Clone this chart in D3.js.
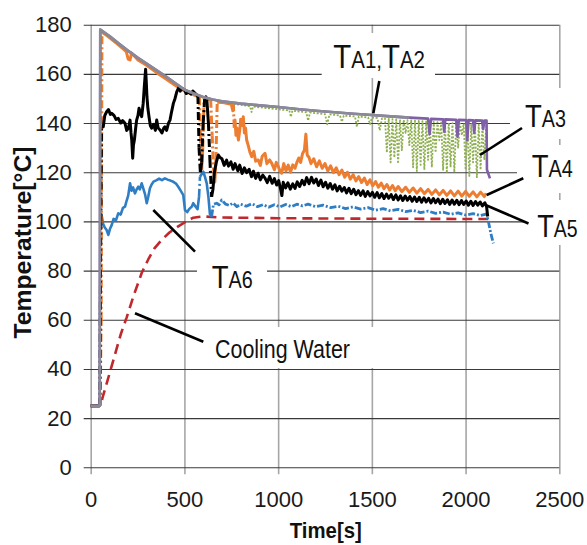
<!DOCTYPE html>
<html><head><meta charset="utf-8">
<script src="https://cdn.jsdelivr.net/npm/d3@7"></script>
<style>body{margin:0;background:#fff}svg{display:block}</style>
</head><body><svg id="c" width="587" height="545"></svg>
<script>
// ---------- data ----------
const xTicks = [0, 500, 1000, 1500, 2000, 2500];
const yTicks = [0, 20, 40, 60, 80, 100, 120, 140, 160, 180];

// TA1 (grey) – top envelope
const ta1 = [[0,25],[48,25],[51,178],[100,175.4],[150,172.3],[200,169.4],[250,166.6],[300,164.1],[350,161.5],[400,159],[450,156.3],[500,153.6],[550,152],[600,150.6],[650,149.6],[700,148.9],[800,147.9],[900,147.2],[1000,146.5],[1100,145.7],[1200,145],[1300,144.4],[1400,143.8],[1500,143.3],[1600,142.7],[1700,142.2]];

// TA2 (purple)
const ta2 = [[0,25],[48,25],[51,178],[100,175.4],[150,172.3],[200,169.4],[250,166.6],[300,164.1],[350,161.5],[400,159],[450,156.3],[500,153.6],[550,152],[600,150.6],[650,149.6],[700,148.9],[800,147.9],[900,147.2],[1000,146.5],[1100,145.7],[1200,145],[1300,144.4],[1400,143.8],[1500,143.3],[1600,142.7],[1700,142.2],[1750,142],[1800,141.8],[1808,135.5],[1816,141.7],[1880,141.5],[1886,136.5],[1892,141.5],[1950,141.3],[1957,134.5],[1964,141.3],[2003,141.2],[2009,133],[2016,141.2],[2040,141.1],[2046,136],[2052,141.1],[2088,141],[2094,137.5],[2100,141],[2112,141],[2114,121],[2130,117.5]];

// TA3 (green, dotted)
const ta3 = [[0,25],[49,25],[52,177],[100,175],[200,169.1],[300,163.8],[400,158.6],[500,153.3],[600,150.3],[700,148.5],[800,147.4],[850,146.8],[858,144.5],[866,146.7],[950,146],[1000,145.6],[1060,145.1],[1068,142.5],[1076,145],[1150,144.4],[1160,141],[1170,144.3],[1250,143.6],[1262,139.5],[1274,143.5],[1330,143.1],[1340,140.5],[1350,143],[1410,142.7],[1420,138.5],[1430,142.6],[1480,142.3],[1490,139.5],[1500,142.2],[1530,142],[1542,137],[1554,141.9],
[1570,141.8],[1580,128],[1590,141.7],[1600,124],[1610,141.6],[1620,126],[1630,141.5],[1640,123.5],[1650,141.4],[1660,129],[1670,141.3],[1680,136],[1690,141.2],[1700,131],[1710,141.1],[1720,122],[1730,141],[1740,120.5],[1750,140.9],[1760,123],[1770,140.8],[1780,121],[1790,140.7],[1800,125],[1810,140.6],[1820,122],[1830,140.5],[1840,128],[1850,140.4],[1860,133],[1870,140.3],[1880,121],[1890,140.2],[1900,119.7],[1910,140.1],[1920,122],[1930,140],[1940,120],[1950,140],[1960,130],[1970,139.9],[1980,135],[1990,139.8],[2000,121],[2010,139.7],[2020,118.5],[2030,139.6],[2040,124],[2050,139.5],[2060,118],[2070,139.4],[2080,121],[2090,139.3],[2100,125],[2110,139]];

// TA4 (orange)
const ta4 = [[0,25],[50,25],[56,60],[58,120],[60,177],[70,176.5],[100,174.8],[150,171.7],[190,169],[200,166],[210,165.7],[218,168.5],[250,165.8],[300,163.4],[350,160.6],[400,158],[450,155.4],[500,153],[550,151.5],[580,150.5],[585,135],[592,121],[598,130],[605,150],[640,149.5],[648,135],[655,122],[662,116],[668,125],[675,148.5],[700,148.4],[750,147.6],[758,145],[761,148],[766,138],[770,141.2],[775,135],[780,138],[788,133.1],[795,137],[800,141.5],[806,141.2],[810,139],[814,142.6],[820,136],[826,138],[832,133.1],[840,131],[850,128],[859,126.3],[870,128.5],[880,124.5],[894,125],[905,122.8],[915,126.5],[930,127.7],[940,123.5],[955,125],[966,123.6],[980,121],[990,124],[1001,122.3],[1010,120.5],[1019,119.6],[1030,123.5],[1042,120.5],[1054,122.9],[1066,120],[1078,123],[1090,121.6],[1100,124],[1110,125.8],[1120,124],[1130,127.5],[1140,129],[1148,135.5],[1155,127],[1165,126],[1175,123.5],[1190,125.5],[1205,122.2],[1220,124.6],[1235,121.6],[1250,123.5],[1265,120.5],[1280,122.6],[1295,119.8],[1310,121.8],[1325,119],[1340,120.9],[1355,118],[1370,120],[1385,117.2],[1400,119],[1415,116.5],[1430,118.2],[1445,115.8],[1460,117.6],[1475,115],[1490,116.9],[1505,114.5],[1520,116.2],[1535,113.9],[1550,115.6],[1565,113.3],[1580,115],[1595,112.8],[1610,114.6],[1625,112.5],[1640,114.2],[1660,112.1],[1680,113.9],[1700,111.8],[1720,113.6],[1740,111.5],[1760,113.3],[1780,111.3],[1800,113],[1820,111],[1840,112.8],[1860,110.8],[1880,112.6],[1900,110.6],[1920,112.4],[1940,110.4],[1960,112.3],[1980,110.3],[2000,112.2],[2020,110.2],[2040,112],[2060,110],[2080,111.9],[2100,110.1],[2110,111.4]];

// TA5 (black)
const ta5 = [[0,25],[48,25],[54,100],[58,138.5],[67,138.5],[75,143],[85,144.6],[95,145.5],[105,143.5],[112,144],[125,143],[135,141.5],[147,141.9],[160,140],[170,141],[183,139.9],[192,137],[201,137.9],[210,141.2],[215,136],[219,133.1],[224,125.7],[228,131],[233,133.1],[240,138],[245,141.2],[252,143],[258,146],[265,144],[272,142.6],[280,148],[286,154.8],[293,161.9],[297,156],[300,150.7],[305,146],[311,142.6],[318,139],[325,137.9],[335,139.5],[345,137],[352,141.2],[360,138],[370,137.2],[380,136],[390,138],[396,138.5],[405,137],[415,140],[423,141.2],[430,144],[441,148],[450,150],[459,152.7],[470,154.5],[478,153],[486,154.1],[500,153.5],[510,152],[521,152.7],[535,151.8],[545,153],[557,152.1],[566,151.4],[572,151],[578,130],[585,120],[592,124],[600,140],[608,150],[614,150.7],[620,149],[628,140],[636,125],[645,110],[652,113],[660,120],[670,124],[681,127],[690,126],
[700,125.5],[712,122.8],[725,124.9],[735,122.5],[748,124.2],[760,121.2],[770,123.5],[785,120.6],[795,122.9],[808,119.5],[820,121.8],[832,119.8],[845,121.2],[858,118.2],[868,120.4],[880,117.5],[893,119.6],[905,116.9],[918,118.8],[930,117.6],[942,115.8],[955,118.3],[968,115.5],[980,117.4],[992,114.8],[1003,116.6],[1012,113.5],[1020,110.5],[1027,115.9],[1040,113.6],[1052,115.7],[1065,113.1],[1078,115.3],[1090,113.4],[1102,116.1],[1115,114.2],[1128,116.7],[1140,114.9],[1152,117.8],[1165,115.3],[1178,117.9],[1190,115.6],[1203,117.2],[1215,114.6],[1228,116.8],[1240,114.1],[1253,115.9],[1265,113.5],[1278,115.4],[1290,113.1],[1303,114.9],[1315,112.4],[1328,114.3],[1340,112.3],[1353,113.8],[1365,111.6],[1378,113.5],[1390,111.3],[1403,113.1],[1415,110.9],[1428,112.5],[1440,110.6],[1453,112.4],[1465,110.2],[1478,112.1],[1490,110.4],[1503,111.8],[1515,109.8],[1528,111.7],[1540,109.6],[1553,111.3],[1565,109.3],[1578,111.1],[1590,109.4],[1603,110.9],[1615,108.9],[1628,110.8],[1640,108.7],[1653,110.4],[1665,108.5],[1678,110.3],[1690,108.6],[1703,110.1],[1715,108.2],[1728,109.9],[1740,108.1],[1753,109.8],[1765,107.8],[1778,109.6],[1790,107.9],[1803,109.4],[1815,107.5],[1828,109.3],[1840,107.6],[1853,109.1],[1865,107.2],[1878,109],[1890,107.3],[1903,108.8],[1915,106.9],[1928,108.7],[1940,107],[1953,108.6],[1965,106.8],[1978,108.5],[1990,106.9],[2003,108.3],[2015,106.6],[2028,108.2],[2040,106.5],[2053,108.1],[2065,106.6],[2078,107.9],[2090,106.3],[2103,107.6],[2112,106],[2118,102]];

// TA6 (blue)
const ta6 = [[0,25],[50,25],[52,103.3],[58,102.6],[66,99],[75,97.5],[85,96.5],[94,94.5],[103,97],[112,98.5],[122,101],[135,100.5],[147,103.3],[160,102.8],[172,105.5],[183,106],[192,108.5],[200,110.5],[210,115.5],[218,112.5],[226,113.8],[236,111.4],[245,113],[254,114.1],[262,113],[272,115.5],[280,113.5],[290,111],[299,107.4],[307,110],[316,113.5],[325,115],[335,116.2],[352,116.8],[365,117.4],[380,116.8],[396,117.5],[410,117],[425,116.6],[441,116.1],[455,115.4],[467,114.1],[480,112.5],[494,110.7],[503,104.6],[515,103.8],[525,105],[539,106],[547,107.4],[560,106],[570,105],[578,110],[583,118.2],[590,119],[601,120.2],[610,118],[619,115.5],[628,110],[636,103],[645,102],[655,107],[672,107.4],[685,106.8],[699,108.7],[720,107],[740,106.5],[760,107.5],[780,106],[800,107],[830,106.2],[860,107.2],[890,106],[920,106.8],[950,105.8],[980,106.8],[1010,105.9],[1040,106.9],[1070,106],[1100,107],[1130,106.3],[1160,107],[1200,106],[1240,106.6],[1280,105.6],[1320,106.2],[1360,105.2],[1400,105.9],[1440,105],[1480,105.6],[1520,104.6],[1560,105.2],[1600,104.3],[1640,104.9],[1680,104],[1720,104.5],[1760,103.6],[1800,104.2],[1840,103.3],[1880,103.8],[1920,102.9],[1960,103.5],[2000,102.6],[2040,103.2],[2080,102.4],[2110,103],[2122,99.9],[2135,95],[2148,91.1]];

// Cooling water (red dashed)
const coolingWater = [[0,25],[58,25.3],[62,28],[100,38],[130,46],[160,54],[192,61],[230,70],[272,79],[310,85],[340,89],[379,92.5],[420,95.5],[467,98],[510,100],[547,101.5],[600,102],[700,101.6],[1000,101.3],[1500,101.1],[2000,101],[2140,101]];

// ---------- drawing ----------
const svg = d3.select('#c');
const FONT = '"Liberation Sans", Arial, sans-serif';
const L = 90.7, R = 559.3, T = 24.7, B = 467.3;
const x = d3.scaleLinear().domain([0, 2500]).range([L, R]);
const y = d3.scaleLinear().domain([0, 180]).range([B, T]);

// vertical grid + x axis
const gx = svg.append('g').attr('transform', `translate(0,${B})`)
  .call(d3.axisBottom(x).tickValues(xTicks).tickSizeInner(7).tickSizeOuter(0).tickPadding(17.4).tickFormat(d3.format('d')));
gx.select('.domain').remove();
gx.selectAll('.tick line').attr('y1', -(B - T)).attr('stroke', '#a6a6a6').attr('stroke-width', 1.6);
gx.selectAll('.tick text').attr('font-family', FONT).attr('font-size', 22).attr('fill', '#1a1a1a');

// horizontal grid + y axis
const gy = svg.append('g').attr('transform', `translate(${L},0)`)
  .call(d3.axisLeft(y).tickValues(yTicks).tickSizeInner(7).tickSizeOuter(0).tickPadding(12).tickFormat(d3.format('d')));
gy.select('.domain').remove();
gy.selectAll('.tick line').attr('x1', R - L).attr('stroke', '#3a3a3a').attr('stroke-width', 1.1);
gy.selectAll('.tick text').attr('font-family', FONT).attr('font-size', 22).attr('fill', '#1a1a1a');

// series
const line = d3.line().x(d => x(d[0])).y(d => y(d[1]));
function drawSeries(data, color, width, dash, jumpDash, thr) {
  const runs = [], jumps = [];
  let cur = [data[0]];
  for (let i = 1; i < data.length; i++) {
    if (thr && Math.abs(data[i][1] - data[i-1][1]) > thr) {
      if (cur.length > 1) runs.push(cur);
      jumps.push([data[i-1], data[i]]);
      cur = [data[i]];
    } else cur.push(data[i]);
  }
  if (cur.length > 1) runs.push(cur);
  const g = svg.append('g').attr('fill', 'none').attr('stroke', color)
    .attr('stroke-width', width).attr('stroke-linejoin', 'round');
  runs.forEach(r => g.append('path').attr('d', line(r)).attr('stroke-dasharray', dash || null));
  jumps.forEach(r => g.append('path').attr('d', line(r)).attr('stroke-dasharray', jumpDash || dash || null));
}

drawSeries(coolingWater, '#c0282d', 2.6, '10,6');
drawSeries(ta6.filter(d => d[0] <= 645), '#2f7ec4', 2.6, null, '8,3,2,3', 8);
drawSeries(ta6.filter(d => d[0] >= 645), '#2f7ec4', 2.8, '7,2,2,2');
drawSeries(ta4, '#ed7d31', 3, null, '8,3,2,3', 9);
drawSeries(ta5, '#000000', 3, null, '8,3,2,3', 9);
drawSeries(ta3, '#8fb050', 1.8, '2,1.6');
drawSeries(ta2, '#7f5fa5', 2.6);
drawSeries(ta1, '#8a8a96', 2.6);

// label boxes
const boxes = [[321.7,33,113.3,45],[510,88,77,51],[517,145,70,48],[525,200,62,45],[197,255,70,42],[203,327,182,41]];
boxes.forEach(b => svg.append('rect').attr('x', b[0]).attr('y', b[1]).attr('width', b[2]).attr('height', b[3]).attr('fill', '#fff'));

// leader lines
const leaders = [[379.3,81,373.3,113.3],[522,128,480,155],[523.3,178.3,486.7,195],[528.5,223.5,486.7,205.5],[153.3,210,195,251.7],[135,313.3,203.3,341.7]];
leaders.forEach(l => svg.append('line').attr('x1', l[0]).attr('y1', l[1]).attr('x2', l[2]).attr('y2', l[3])
  .attr('stroke', '#000').attr('stroke-width', 2.6));

// composite labels: large "T" + smaller "A#", condensed to the measured width
function tLabel(px, py, parts, targetW) {
  const g = svg.append('g');
  let cx = 0;
  parts.forEach(p => {
    const t = g.append('text').attr('x', cx).attr('y', 0).attr('font-family', FONT)
      .attr('font-size', p[1]).attr('fill', '#111').text(p[0]);
    cx += t.node().getComputedTextLength();
  });
  const s = targetW / cx;
  g.attr('transform', `translate(${px},${py}) scale(${s},1)`);
}
tLabel(333.3, 68.3, [['T',33],['A1,',23],['T',33],['A2',23]], 91.7);
tLabel(525, 126.5, [['T',32],['A3',23]], 41);
tLabel(531.7, 177.3, [['T',32],['A4',23]], 41);
tLabel(537.3, 237.3, [['T',32],['A5',23]], 40.4);
tLabel(211.7, 288.3, [['T',32],['A6',23]], 41);
tLabel(215, 358.3, [['Cooling Water',25.5]], 135);

// axis titles
svg.append('text').attr('x', 325.8).attr('y', 538).attr('text-anchor', 'middle').attr('font-family', FONT)
  .attr('font-weight', 'bold').attr('font-size', 22).attr('fill', '#111')
  .attr('textLength', 72).attr('lengthAdjust', 'spacingAndGlyphs').text('Time[s]');
svg.append('text').attr('transform', 'translate(30.5,242.5) rotate(-90)').attr('text-anchor', 'middle')
  .attr('font-family', FONT).attr('font-weight', 'bold').attr('font-size', 24).attr('fill', '#111')
  .attr('textLength', 192).attr('lengthAdjust', 'spacingAndGlyphs').text('Temperature[°C]');
</script></body></html>
